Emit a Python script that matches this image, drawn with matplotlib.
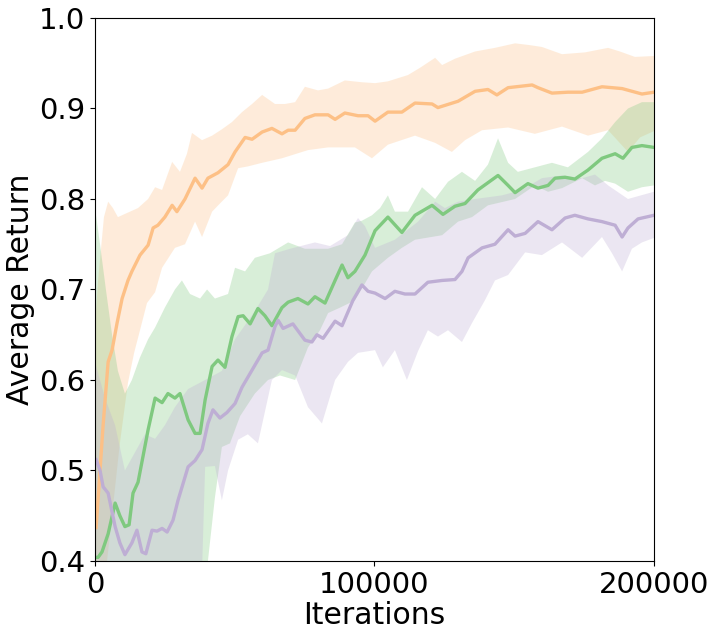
import numpy as np
import matplotlib
matplotlib.use("Agg")
import matplotlib.pyplot as plt

# iterations are stored in thousands
orange_x = [0.4, 2.9, 4.7, 6.1, 7.9, 9.7, 11.8, 13.2, 16.1, 19.0, 20.8, 22.5, 25.0, 27.6, 29.3, 32.2,
            35.8, 38.3, 40.4, 44.0, 47.6, 50.1, 53.7, 56.2, 59.8, 63.3, 66.9, 69.1, 71.6, 75.1, 78.7,
            83.4, 85.9, 89.4, 94.1, 97.7, 100.2, 104.8, 109.8, 114.5, 120.6, 122.7, 129.9, 136.0,
            140.6, 143.8, 147.8, 156.4, 158.5, 163.5, 169.2, 174.3, 181.4, 188.6, 195.7, 200.0]
orange_mean = [0.437, 0.55, 0.62, 0.633, 0.663, 0.69, 0.71, 0.72, 0.738, 0.749, 0.768, 0.771, 0.78,
               0.793, 0.786, 0.80, 0.823, 0.812, 0.823, 0.829, 0.838, 0.852, 0.868, 0.866, 0.874,
               0.878, 0.872, 0.876, 0.876, 0.889, 0.893, 0.893, 0.888, 0.895, 0.892, 0.892, 0.886,
               0.896, 0.896, 0.906, 0.905, 0.901, 0.908, 0.919, 0.921, 0.915, 0.923, 0.926, 0.923,
               0.917, 0.918, 0.918, 0.924, 0.922, 0.916, 0.918]
orange_up_x = [0, 1.1, 3.2, 4.7, 6.4, 8.2, 11.8, 15.4, 19.0, 21.5, 24.0, 27.6, 30.4, 32.9, 34.7, 38.3,
               41.9, 45.4, 49.0, 52.6, 56.2, 59.8, 64.4, 68.0, 71.6, 75.1, 79.8, 83.4, 89.4, 95.5,
               100.2, 104.8, 112.0, 116.3, 121.7, 124.2, 128.8, 136.0, 143.1, 150.3, 155.6, 159.9,
               167.1, 175.3, 183.6, 187.8, 193.2, 200.0]
orange_up = [0.66, 0.71, 0.78, 0.797, 0.79, 0.78, 0.785, 0.79, 0.80, 0.813, 0.81, 0.841, 0.83, 0.85,
             0.873, 0.865, 0.87, 0.877, 0.885, 0.896, 0.905, 0.915, 0.905, 0.905, 0.907, 0.924, 0.92,
             0.922, 0.931, 0.929, 0.928, 0.93, 0.937, 0.945, 0.956, 0.948, 0.955, 0.963, 0.967,
             0.972, 0.97, 0.968, 0.96, 0.962, 0.967, 0.963, 0.957, 0.958]
orange_lo_x = [0, 3.6, 6.1, 8.9, 11.8, 14.0, 16.1, 18.6, 21.5, 24.0, 28.6, 32.2, 35.8, 38.3, 41.9,
               44.7, 47.6, 51.2, 54.7, 59.8, 66.9, 76.2, 83.4, 93.0, 99.1, 104.8, 114.5, 121.7,
               127.7, 132.4, 138.5, 147.8, 157.4, 167.1, 176.4, 183.6, 190.7, 195.0, 200.0]
orange_lo = [0.30, 0.38, 0.45, 0.53, 0.597, 0.63, 0.655, 0.685, 0.697, 0.724, 0.746, 0.75, 0.775,
             0.758, 0.786, 0.795, 0.804, 0.834, 0.836, 0.84, 0.845, 0.854, 0.857, 0.857, 0.845,
             0.86, 0.87, 0.862, 0.852, 0.865, 0.876, 0.879, 0.872, 0.88, 0.87, 0.876, 0.852,
             0.868, 0.875]

green_x = [0, 1.1, 2.5, 4.7, 7.2, 8.9, 10.7, 12.2, 13.6, 15.4, 19.0, 21.5, 24.0, 26.1, 28.6, 30.4,
           33.3, 35.8, 37.6, 39.4, 41.9, 44.0, 46.5, 49.0, 51.2, 53.0, 55.5, 58.3, 60.8, 63.3, 66.9,
           69.1, 72.6, 76.2, 78.7, 82.3, 85.9, 88.4, 90.5, 93.0, 96.6, 100.2, 104.8, 109.8, 114.5,
           120.6, 124.5, 128.8, 132.4, 137.0, 144.2, 147.8, 150.3, 154.9, 158.5, 162.1, 164.6,
           168.2, 171.7, 176.4, 181.4, 186.1, 188.9, 192.1, 195.7, 200.0]
green_mean = [0.404, 0.404, 0.41, 0.43, 0.464, 0.45, 0.438, 0.44, 0.475, 0.487, 0.545, 0.58, 0.575,
              0.585, 0.58, 0.585, 0.556, 0.541, 0.541, 0.578, 0.615, 0.622, 0.614, 0.648, 0.670,
              0.671, 0.662, 0.679, 0.671, 0.66, 0.68, 0.686, 0.69, 0.684, 0.692, 0.685, 0.71,
              0.727, 0.713, 0.72, 0.738, 0.765, 0.78, 0.763, 0.782, 0.793, 0.783, 0.792, 0.795,
              0.81, 0.826, 0.815, 0.807, 0.817, 0.812, 0.815, 0.823, 0.824, 0.822, 0.832, 0.845,
              0.85, 0.845, 0.857, 0.859, 0.857]
green_up_x = [0, 1.8, 3.9, 6.1, 8.2, 10.7, 13.2, 16.1, 19.0, 21.5, 25.0, 28.6, 31.1, 34.0, 37.6,
              40.1, 42.9, 47.6, 50.1, 53.7, 57.2, 62.6, 69.1, 75.1, 83.4, 88.4, 93.0, 95.5, 99.1,
              102.0, 104.8, 107.3, 112.0, 117.0, 121.7, 126.3, 131.3, 136.0, 140.6, 144.2, 147.8,
              151.3, 157.4, 163.5, 169.2, 176.4, 181.4, 186.1, 190.7, 195.7, 200.0]
green_up = [0.79, 0.75, 0.70, 0.65, 0.61, 0.585, 0.60, 0.625, 0.645, 0.658, 0.68, 0.70, 0.71, 0.695,
            0.69, 0.70, 0.69, 0.695, 0.724, 0.72, 0.735, 0.74, 0.752, 0.745, 0.745, 0.75, 0.774,
            0.776, 0.782, 0.79, 0.804, 0.786, 0.786, 0.813, 0.80, 0.819, 0.83, 0.82, 0.838, 0.867,
            0.84, 0.83, 0.835, 0.84, 0.835, 0.852, 0.867, 0.885, 0.90, 0.907, 0.907]
green_lo_x = [0, 12.5, 23.3, 32.2, 37.6, 40.4, 42.9, 45.4, 48.3, 51.9, 57.2, 61.9, 66.2, 71.6, 76.2,
              80.5, 83.4, 87.7, 93.0, 99.1, 104.8, 109.8, 114.5, 124.2, 129.9, 134.9, 140.6, 150.3,
              157.4, 162.1, 167.1, 174.3, 178.9, 182.5, 186.1, 190.7, 195.7, 200.0]
green_lo = [0.35, 0.37, 0.38, 0.37, 0.36, 0.40, 0.47, 0.526, 0.53, 0.56, 0.585, 0.60, 0.605, 0.60,
            0.636, 0.655, 0.674, 0.68, 0.688, 0.72, 0.735, 0.746, 0.755, 0.76, 0.775, 0.78, 0.793,
            0.80, 0.815, 0.808, 0.812, 0.823, 0.815, 0.82, 0.817, 0.808, 0.813, 0.815]

purple_x = [0.4, 1.8, 2.9, 4.7, 7.2, 8.9, 10.7, 13.2, 15.0, 16.8, 18.2, 20.4, 22.2, 24.0, 25.8, 27.9,
            29.7, 33.3, 35.8, 38.3, 40.4, 42.2, 44.7, 47.2, 50.1, 52.6, 56.2, 59.8, 61.9, 64.4, 65.5,
            67.3, 70.8, 75.1, 77.6, 79.4, 81.6, 85.9, 88.4, 92.3, 95.5, 97.7, 100.2, 103.8, 107.3,
            110.9, 114.5, 119.1, 124.2, 128.8, 131.3, 133.5, 138.5, 143.1, 147.8, 150.3, 153.9,
            158.5, 163.5, 168.2, 171.7, 176.4, 181.4, 186.1, 188.6, 190.7, 194.3, 200.0]
purple_mean = [0.512, 0.50, 0.482, 0.475, 0.438, 0.42, 0.407, 0.42, 0.434, 0.41, 0.408, 0.434, 0.433,
               0.436, 0.432, 0.445, 0.467, 0.504, 0.511, 0.523, 0.552, 0.567, 0.558, 0.564, 0.574,
               0.592, 0.611, 0.63, 0.633, 0.659, 0.666, 0.657, 0.662, 0.644, 0.642, 0.65, 0.646,
               0.665, 0.66, 0.688, 0.705, 0.698, 0.696, 0.69, 0.698, 0.695, 0.695, 0.708, 0.71,
               0.711, 0.72, 0.735, 0.746, 0.75, 0.766, 0.759, 0.762, 0.775, 0.766, 0.779, 0.782,
               0.778, 0.775, 0.771, 0.758, 0.768, 0.778, 0.782]
purple_up_x = [0, 3.6, 7.2, 10.7, 14.3, 17.9, 21.5, 25.0, 28.6, 33.3, 39.4, 45.4, 50.1, 57.2, 61.9,
               64.4, 69.8, 78.7, 84.1, 90.5, 94.1, 96.6, 100.2, 107.3, 115.6, 121.7, 125.2, 129.9,
               136.0, 145.6, 152.8, 159.9, 167.1, 174.3, 178.9, 183.6, 190.7, 200.0]
purple_up = [0.62, 0.58, 0.55, 0.50, 0.52, 0.54, 0.535, 0.55, 0.57, 0.59, 0.60, 0.61, 0.645, 0.676,
             0.70, 0.74, 0.745, 0.752, 0.748, 0.76, 0.779, 0.77, 0.746, 0.755, 0.775, 0.797, 0.79,
             0.797, 0.80, 0.804, 0.81, 0.823, 0.826, 0.823, 0.827, 0.815, 0.80, 0.808]
purple_lo_x = [0, 19.7, 28.6, 35.8, 38.3, 39.4, 42.9, 45.4, 47.6, 51.2, 54.7, 58.3, 63.3, 66.9, 71.6,
               76.2, 81.2, 85.9, 90.5, 94.1, 100.2, 103.0, 107.3, 111.6, 115.6, 119.1, 122.7, 126.3,
               131.3, 134.9, 139.5, 143.1, 147.8, 153.9, 159.9, 167.1, 174.3, 181.4, 185.0, 188.6,
               192.1, 195.7, 200.0]
purple_lo = [0.30, 0.33, 0.36, 0.38, 0.39, 0.504, 0.505, 0.467, 0.50, 0.534, 0.54, 0.53, 0.60, 0.611,
             0.605, 0.57, 0.552, 0.60, 0.62, 0.63, 0.633, 0.614, 0.633, 0.60, 0.632, 0.655, 0.648,
             0.655, 0.642, 0.663, 0.688, 0.71, 0.716, 0.741, 0.738, 0.752, 0.735, 0.758, 0.74, 0.72,
             0.745, 0.752, 0.757]

series = [
    ("#fdc086", orange_x, orange_mean, orange_up_x, orange_up, orange_lo_x, orange_lo),
    ("#7fc97f", green_x, green_mean, green_up_x, green_up, green_lo_x, green_lo),
    ("#beaed4", purple_x, purple_mean, purple_up_x, purple_up, purple_lo_x, purple_lo),
]

fig = plt.figure(figsize=(7.17, 6.38), dpi=100)
ax = fig.add_axes([0.1325, 0.1207, 0.7796, 0.8511])

# shaded bands first, mean curves on top
for color, x, m, ux, u, lx, lo in series:
    px = np.r_[ux, lx[::-1]] * 1000
    py = np.r_[u, lo[::-1]]
    ax.fill(px, py, color=color, alpha=0.3, lw=0)
for color, x, m, ux, u, lx, lo in series:
    ax.plot(np.array(x) * 1000, m, color=color, lw=2.4)

ax.set_xlim(0, 200000)
ax.set_ylim(0.4, 1.0)
ax.set_xticks([0, 100000, 200000])
ax.set_yticks([0.4, 0.5, 0.6, 0.7, 0.8, 0.9, 1.0])
ax.tick_params(labelsize=21)
ax.set_xlabel("Iterations", fontsize=21.5, labelpad=2)
ax.set_ylabel("Average Return", fontsize=21.5, labelpad=3)

fig.savefig("out.png", dpi=100)
